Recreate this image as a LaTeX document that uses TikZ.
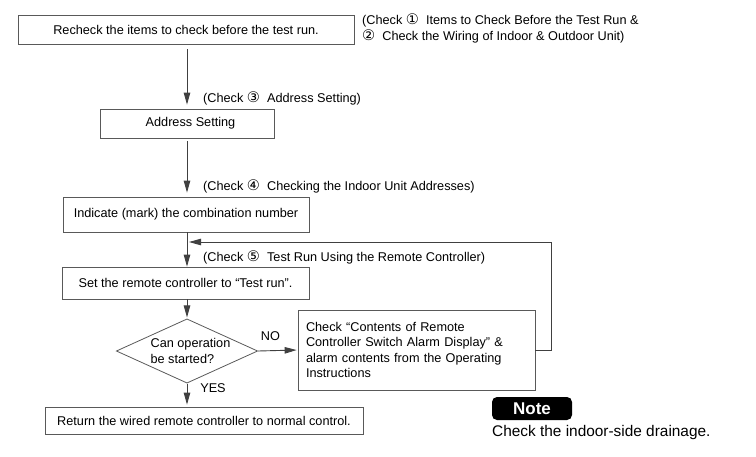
\documentclass[tikz,border=0pt]{standalone}
\usepackage{fontspec}
\setmainfont{Liberation Sans}
\newfontfamily\circfont{DejaVu Sans}[Scale=1.15]
\usepackage{tikz}
\usetikzlibrary{arrows.meta, shapes.geometric, calc}

\begin{document}
\begin{tikzpicture}[x=1pt, y=-1pt,
        font=\fontsize{12.7}{15.5}\selectfont,
        stepbox/.style={draw=black!65, line width=0.8pt, inner sep=0pt},
        remark/.style={anchor=west, inner sep=0pt, align=left},
        arr/.style={draw=black!75, line width=0.9pt, -{Triangle[length=12pt, width=6.5pt]}}]
        \useasboundingbox (0,0) rectangle (756,456);
        \coordinate (spine) at (187,0);

        \node[stepbox, minimum width=336pt, minimum height=29pt] (recheck) at (186,29.5) {Recheck the items to check before the test run.};
        \node[stepbox, minimum width=174pt, minimum height=29pt] (address) at (187,123.5) {\hspace*{7pt}Address Setting};
        \node[stepbox, minimum width=246pt, minimum height=35pt] (mark) at (186,214.5) {Indicate (mark) the combination number};
        \node[stepbox, minimum width=247pt, minimum height=32pt] (testrun) at (185.5,283) {Set the remote controller to “Test run”.};
        \node[draw=black!65, line width=0.8pt, diamond, aspect=2.2, minimum width=137pt, minimum height=62pt, inner sep=0pt, align=left] (started) at (187,351) {\hspace*{7pt}Can operation\\\hspace*{7pt}be started?};
        \node[stepbox, minimum width=237pt, minimum height=80pt, align=left, text width=221pt] (alarm) at (416.5,350) {Check “Contents of Remote\\Controller Switch Alarm Display{\char"22} \&\\alarm contents from the Operating\\Instructions};
        \node[stepbox, minimum width=318pt, minimum height=27pt] (normal) at (204,420.5) {Return the wired remote controller to normal control.};

        \node[remark, anchor=north west] (chkone) at (362,14) {(Check {\circfont ①}\ \ Items to Check Before the Test Run \&\\{\circfont ②}\ \ Check the Wiring of Indoor \& Outdoor Unit)};
        \node[remark] (chkthree) at (203,98) {(Check {\circfont ③}\ \ Address Setting)};
        \node[remark] (chkfour) at (203,186) {(Check {\circfont ④}\ \ Checking the Indoor Unit Addresses)};
        \node[remark] (chkfive) at (203,257) {(Check {\circfont ⑤}\ \ Test Run Using the Remote Controller)};
        \node (no) at (270.5,336) {NO};
        \node (yes) at (213,388) {YES};

        \draw[arr, shorten <=5pt, shorten >=4pt] (recheck.south -| spine) -- (address.north -| spine);
        \draw[arr, shorten <=3pt, shorten >=4pt] (address.south -| spine) -- (mark.north -| spine);
        \draw[arr] (mark.south -| spine) -- (testrun.north -| spine);
        \draw[arr, shorten >=1pt] (testrun.south -| spine) -- (started.north);
        \draw[arr, shorten >=1pt] (started.east) -- (alarm.west);
        \draw[arr, shorten >=2pt] (started.south) -- (normal.north -| spine);

        \coordinate (join) at (187,242);
        \coordinate (loop) at (551,242);
        \draw[arr, shorten >=2pt] (alarm.east) -| (loop) -- (join);

        \node[fill=black, rounded corners=5pt, minimum width=80pt, minimum height=23pt, inner sep=0pt, text=white, font=\fontsize{17}{20}\selectfont\bfseries] (note) at (532,408.5) {Note};
        \node[remark, font=\fontsize{15.4}{18}\selectfont] (drain) at (492,433) {Check the indoor-side drainage.};
\end{tikzpicture}
\end{document}
